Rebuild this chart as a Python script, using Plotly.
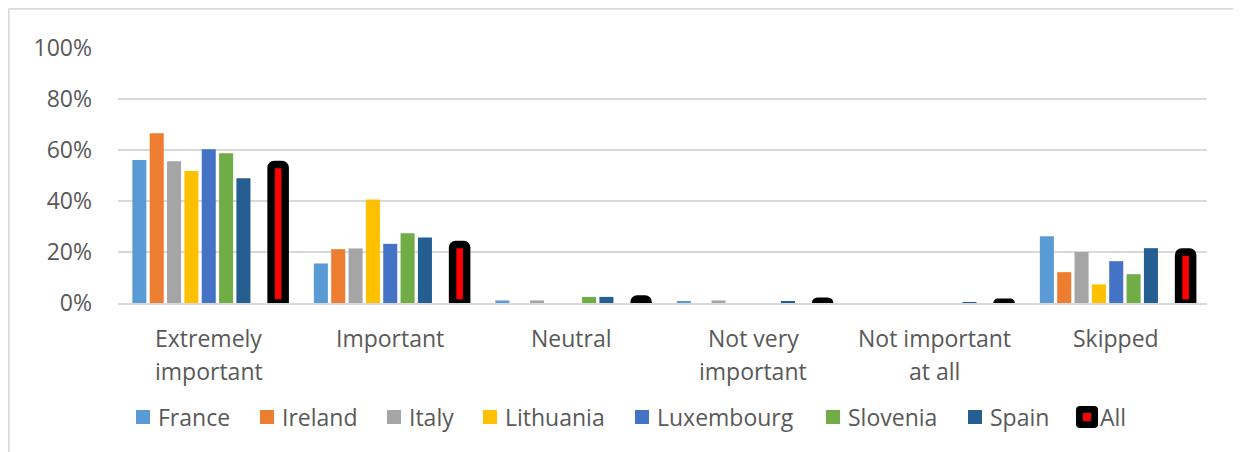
import plotly.graph_objects as go

# ---------------- data ----------------
categories = ["Extremely important", "Important", "Neutral",
              "Not very important", "Not important at all", "Skipped"]
cat_line1 = ["Extremely", "Important", "Neutral", "Not very", "Not important", "Skipped"]
cat_line2 = ["important", "", "", "important", "at all", ""]

series_names = ["France", "Ireland", "Italy", "Lithuania", "Luxembourg", "Slovenia", "Spain"]
france = [56.1, 15.5, 1.0, 0.4, 0.0, 26.2]
ireland = [66.6, 21.1, 0.0, 0.0, 0.0, 12.1]
italy = [55.6, 21.4, 1.0, 1.0, 0.0, 20.0]
lithuania = [51.8, 40.6, 0.0, 0.0, 0.0, 7.3]
luxembourg = [60.3, 23.2, 0.0, 0.0, 0.0, 16.4]
slovenia = [58.7, 27.4, 2.4, 0.0, 0.0, 11.3]
spain = [48.9, 25.7, 2.4, 0.6, 0.3, 21.5]
all_name = "All"
all_countries = [54.3, 22.9, 1.6, 0.7, 0.3, 20.0]

y_tick_vals = [0, 20, 40, 60, 80, 100]
y_tick_text = ["0%", "20%", "40%", "60%", "80%", "100%"]

# ---------------- styles ----------------
colors = ["#5b9bd5", "#ed7d31", "#a5a5a5", "#ffc000", "#4472c4", "#70ad47", "#255e91"]
text_color = "#595959"
grid_color = "#d9d9d9"
FONT = "Open Sans"
FS = 23

# page has an 8px body margin: figure is drawn from (8, 8)
OFF = 8
W, H = 1241 - OFF, 452 - OFF
ML, MR, MT, MB = 118 - OFF, W - (1207 - OFF), 48 - OFF, H - (303 - OFF)
PW, PH = W - ML - MR, H - MT - MB


def px_x(px):
    """reference-image x pixel -> paper coordinate"""
    return (px - OFF - ML) / PW


def px_y(py):
    """reference-image y pixel -> paper coordinate"""
    return (H - MB - (py - OFF)) / PH


fig = go.Figure()
values = [france, ireland, italy, lithuania, luxembourg, slovenia, spain]
for name, vals, col in zip(series_names, values, colors):
    fig.add_trace(go.Bar(x=categories, y=vals, name=name, marker_color=col,
                         marker_line_width=0, showlegend=False))
# empty slot between Spain and All
fig.add_trace(go.Bar(x=categories, y=[0] * len(categories), name="",
                     marker_color="rgba(0,0,0,0)", marker_line_width=0,
                     showlegend=False, hoverinfo="skip"))
fig.add_trace(go.Bar(x=categories, y=all_countries, name=all_name,
                     marker=dict(color="#ff0000", line=dict(color="#000000", width=7.5),
                                 cornerradius=3),
                     cliponaxis=False, showlegend=False))

# category labels (two lines with Excel-like spacing)
annotations = []
for cat, l1, l2 in zip(categories, cat_line1, cat_line2):
    annotations.append(dict(x=cat, xref="x", y=px_y(338), yref="paper", text=l1,
                            showarrow=False, xanchor="center", yanchor="middle",
                            font=dict(family=FONT, size=FS, color=text_color)))
    if l2:
        annotations.append(dict(x=cat, xref="x", y=px_y(371), yref="paper", text=l2,
                                showarrow=False, xanchor="center", yanchor="middle",
                                font=dict(family=FONT, size=FS, color=text_color)))

# manual legend
shapes = []
legend_marker_left = [136, 260, 387, 483, 635, 826, 968]
legend_cy = 417
for name, col, lx in zip(series_names, colors, legend_marker_left):
    shapes.append(dict(type="rect", xref="paper", yref="paper",
                       x0=px_x(lx), x1=px_x(lx + 14), y0=px_y(legend_cy + 7), y1=px_y(legend_cy - 7),
                       fillcolor=col, line=dict(width=0)))
    annotations.append(dict(x=px_x(lx + 20), y=px_y(legend_cy), xref="paper", yref="paper",
                            text=name, showarrow=False, xanchor="left", yanchor="middle",
                            font=dict(family=FONT, size=FS, color=text_color)))

# "All" legend marker: rounded black square with red centre
ax0, ax1 = 1076, 1098
ay0, ay1 = legend_cy - 11, legend_cy + 11
r = 4


def P(x, y):
    return f"{px_x(x):.6f},{px_y(y):.6f}"


path = (f"M {P(ax0 + r, ay0)} L {P(ax1 - r, ay0)} Q {P(ax1, ay0)} {P(ax1, ay0 + r)} "
        f"L {P(ax1, ay1 - r)} Q {P(ax1, ay1)} {P(ax1 - r, ay1)} "
        f"L {P(ax0 + r, ay1)} Q {P(ax0, ay1)} {P(ax0, ay1 - r)} "
        f"L {P(ax0, ay0 + r)} Q {P(ax0, ay0)} {P(ax0 + r, ay0)} Z")
shapes.append(dict(type="path", xref="paper", yref="paper", path=path,
                   fillcolor="#000000", line=dict(width=0)))
shapes.append(dict(type="rect", xref="paper", yref="paper",
                   x0=px_x(1083), x1=px_x(1091), y0=px_y(legend_cy + 4), y1=px_y(legend_cy - 4),
                   fillcolor="#ff0000", line=dict(width=0)))
annotations.append(dict(x=px_x(1098), y=px_y(legend_cy), xref="paper", yref="paper",
                        text=all_name, showarrow=False, xanchor="left", yanchor="middle",
                        font=dict(family=FONT, size=FS, color=text_color)))

# outer chart frame (top and left edges visible)
shapes.append(dict(type="line", xref="paper", yref="paper",
                   x0=px_x(8.7), x1=px_x(8.7), y0=px_y(8.7), y1=px_y(470),
                   line=dict(color=grid_color, width=2)))
shapes.append(dict(type="line", xref="paper", yref="paper",
                   x0=px_x(8.7), x1=px_x(1270), y0=px_y(8.7), y1=px_y(8.7),
                   line=dict(color=grid_color, width=2)))

fig.update_layout(
    width=W, height=H,
    margin=dict(l=ML, r=MR, t=MT, b=MB, pad=0),
    paper_bgcolor="white", plot_bgcolor="white",
    barmode="group", bargap=0.14, bargroupgap=0.19,
    showlegend=False,
    font=dict(family=FONT, size=FS, color=text_color),
    annotations=annotations, shapes=shapes,
    xaxis=dict(showticklabels=False, showgrid=False, showline=True, linecolor=grid_color,
               linewidth=2, layer="above traces", ticks="", fixedrange=True),
    yaxis=dict(range=[0, 100], tickvals=y_tick_vals, ticktext=y_tick_text,
               showgrid=True, gridcolor=grid_color, gridwidth=1.5, zeroline=False,
               showline=False, ticks="", ticklabelstandoff=25,
               tickfont=dict(family=FONT, size=FS, color=text_color)),
)

fig.write_html("out.html")
